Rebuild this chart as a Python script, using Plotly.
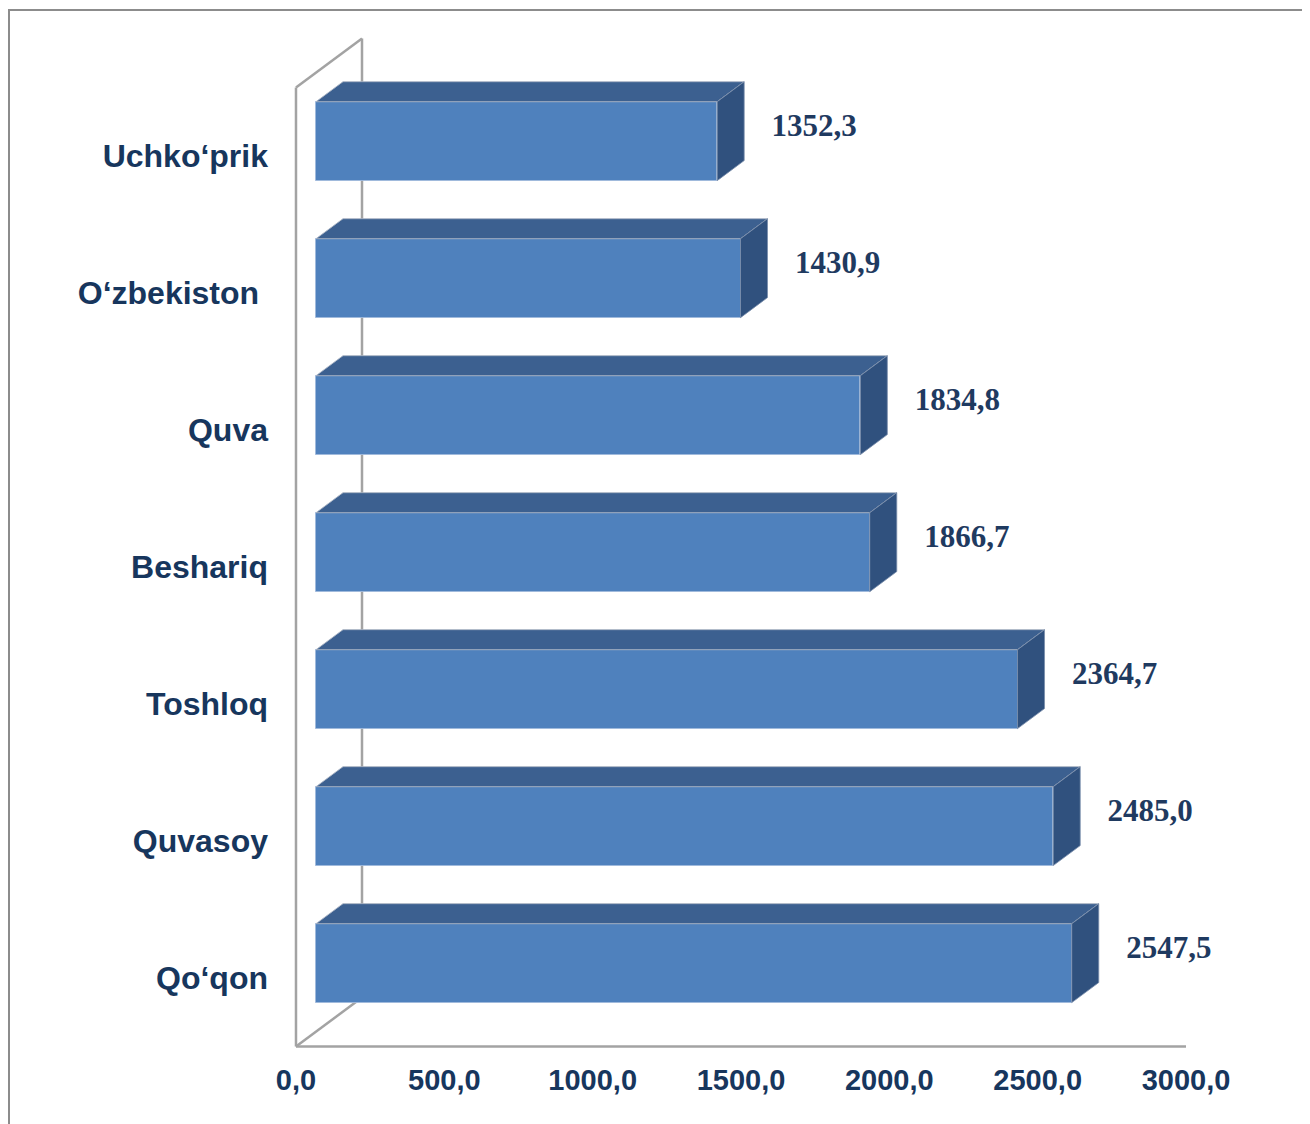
import plotly.graph_objects as go

# data, bottom to top as drawn
categories = ["Qo‘qon", "Quvasoy", "Toshloq", "Beshariq", "Quva", "O‘zbekiston\u00a0", "Uchko‘prik"]
values = [2547.5, 2485.0, 2364.7, 1866.7, 1834.8, 1430.9, 1352.3]
x_ticks = [0, 500, 1000, 1500, 2000, 2500, 3000]

# 3D projection of the box (data units)
DX = 222.5      # full depth shift along x
DY = 0.3577     # full depth shift along y
D0 = 0.303      # depth of bar front face
D1 = 0.712      # depth of bar back face
HALF = 0.288    # half height of a bar
LABEL_DX = 327  # value label centre right of bar front end
LABEL_DY = 0.095

FRONT = "#4F81BD"
TOP = "#3C6090"
SIDE = "#30517E"
WALL = "#A3A3A3"
NAVY = "#17365D"

fig = go.Figure()

n = len(categories)
ymin, ymax = -0.5, n - 0.5

# walls / floor / axis lines, kept under the bars
wall_lines = [
    (0, ymin, 0, ymax),
    (0, ymax, DX, ymax + DY),
    (DX, ymax + DY, DX, ymin + DY),
    (0, ymin, DX, ymin + DY),
    (0, ymin, x_ticks[-1], ymin),
]
shapes = [dict(type="line", xref="x", yref="y", x0=a, y0=b, x1=c, y1=d, layer="below",
               line=dict(color=WALL, width=2.5)) for a, b, c, d in wall_lines]

# outer chart border
shapes.append(dict(type="rect", xref="paper", yref="paper",
                   x0=-0.3088, x1=1.14, y0=-0.08, y1=1.0194,
                   line=dict(color="#8C8C8C", width=2), fillcolor="rgba(0,0,0,0)"))

x0 = D0 * DX
t = D1 - D0
centers = [i + D0 * DY for i in range(n)]

# bars: front faces
fig.add_trace(go.Bar(
    y=centers, x=values, base=x0, orientation="h", width=2 * HALF,
    marker=dict(color=FRONT, line=dict(color="rgba(160,185,220,0.9)", width=1)),
    showlegend=False, hoverinfo="skip",
))

# top and side faces
for yc, v in zip(centers, values):
    xe = x0 + v
    fig.add_trace(go.Scatter(
        x=[x0, xe, xe + t * DX, x0 + t * DX, x0],
        y=[yc + HALF, yc + HALF, yc + HALF + t * DY, yc + HALF + t * DY, yc + HALF],
        fill="toself", fillcolor=TOP, mode="lines",
        line=dict(color="rgba(170,180,195,0.9)", width=1),
        hoverinfo="skip", showlegend=False))
    fig.add_trace(go.Scatter(
        x=[xe, xe + t * DX, xe + t * DX, xe, xe],
        y=[yc - HALF, yc - HALF + t * DY, yc + HALF + t * DY, yc + HALF, yc - HALF],
        fill="toself", fillcolor=SIDE, mode="lines",
        line=dict(color="rgba(120,140,170,0.8)", width=1),
        hoverinfo="skip", showlegend=False))

# value labels
fig.add_trace(go.Scatter(
    x=[x0 + v + LABEL_DX for v in values],
    y=[c + LABEL_DY for c in centers],
    text=[f"{v:.1f}".replace(".", ",") for v in values],
    mode="text", textposition="middle center",
    textfont=dict(family="Liberation Serif, Times New Roman, serif", size=31, color="#1F3A60", weight="bold"),
    cliponaxis=False, hoverinfo="skip", showlegend=False,
))

# page body adds 8px; sizes and margins compensate so the plot area sits where the reference has it
fig.update_layout(
    width=1302, height=1116,
    margin=dict(l=282, r=110, t=22, b=64),
    plot_bgcolor="white", paper_bgcolor="white",
    bargap=0,
    shapes=shapes,
    xaxis=dict(range=[-20.2, 3047.2], tickvals=x_ticks,
               ticktext=[f"{v:.1f}".replace(".", ",") for v in x_ticks],
               showgrid=False, zeroline=False, showline=False, ticks="",
               tickfont=dict(family="Liberation Sans, Arial, sans-serif", size=29, color=NAVY, weight="bold")),
    yaxis=dict(range=[-0.5985, 6.920], tickvals=list(range(n)), ticktext=categories,
               showgrid=False, zeroline=False, showline=False, ticks="",
               ticklabelstandoff=21,
               tickfont=dict(family="Liberation Sans, Arial, sans-serif", size=32, color=NAVY, weight="bold")),
)

fig.write_html("out.html")
